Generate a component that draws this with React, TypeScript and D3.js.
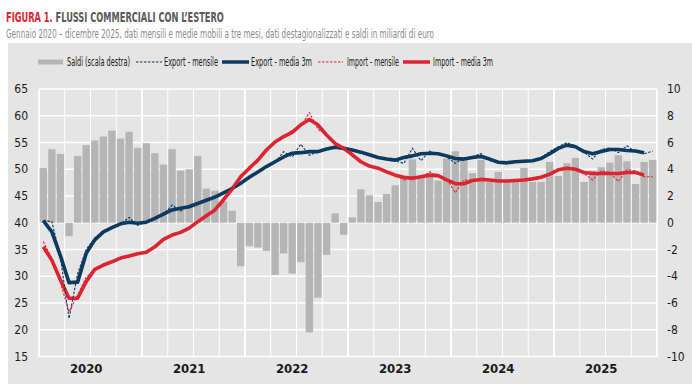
import React, { useLayoutEffect, useRef, useState } from "react";
import * as d3 from "d3";

// Gennaio 2020 - dicembre 2025, miliardi di euro
const years = ["2020", "2021", "2022", "2023", "2024", "2025"];

// saldi (scala destra)
const saldi = [
  4.1, 5.5, 5.15, -1.0, 5.0, 5.8, 6.15, 6.45, 6.9, 6.3, 6.8, 5.6,
  5.95, 5.2, 4.35, 5.5, 3.9, 4.0, 5.0, 2.55, 2.4, 1.6, 0.9, -3.25,
  -1.75, -1.85, -2.1, -3.9, -2.3, -3.8, -2.95, -8.2, -5.6, -2.4, 0.7, -0.9,
  0.4, 2.5, 2.05, 1.55, 2.15, 2.8, 3.3, 4.75, 3.45, 3.5, 3.15, 4.8,
  5.35, 4.9, 3.7, 4.7, 3.1, 3.8, 3.1, 3.1, 4.1, 3.05, 3.05, 4.55,
  3.5, 4.45, 4.85, 3.05, 3.9, 4.15, 4.5, 5.05, 4.6, 2.9, 4.55, 4.7,
];

const exportMensile = [
  40.4, 40.2, 33.5, 22.1, 30.5, 35.0, 37.2, 38.4, 39.3, 39.8, 41.0, 39.5,
  40.3, 40.7, 41.5, 43.3, 42.2, 43.3, 43.8, 44.3, 45.0, 45.5, 46.5, 47.3,
  48.6, 49.3, 50.6, 51.2, 53.3, 52.3, 54.7, 52.6, 53.3, 53.8, 54.1, 53.7,
  53.7, 53.0, 52.6, 52.3, 51.8, 51.6, 51.1, 53.9, 51.6, 53.4, 52.9, 52.3,
  51.1, 52.1, 52.4, 52.9, 51.6, 51.4, 51.2, 51.3, 51.7, 51.5, 52.2, 53.3,
  54.2, 55.0, 54.4, 53.2, 51.9, 53.7, 54.0, 53.1, 54.4, 53.2, 52.9, 53.4,
];

const exportMedia3m = [
  40.4, 38.3, 33.8, 28.8, 28.9, 34.3, 36.8, 38.3, 39.1, 39.8, 40.1, 39.9,
  40.1, 40.8, 41.6, 42.4, 42.7, 43.0, 43.6, 44.2, 44.8, 45.6, 46.4, 47.4,
  48.5, 49.5, 50.5, 51.4, 52.3, 53.0, 53.1, 53.3, 53.3, 53.8, 54.1, 53.9,
  53.6, 53.2, 52.7, 52.2, 51.9, 51.7, 52.2, 52.5, 52.9, 53.0, 52.9, 52.5,
  52.0, 51.9, 52.2, 52.4, 51.9, 51.3, 51.2, 51.4, 51.5, 51.6, 52.0, 52.9,
  53.9, 54.5, 54.2, 53.3, 52.9, 53.3, 53.7, 53.7, 53.5, 53.4, 53.1,
];

const importMensile = [
  36.5, 33.3, 28.8, 23.3, 26.5, 29.8, 31.3, 32.2, 32.6, 33.5, 33.8, 34.3,
  34.4, 35.6, 37.0, 37.5, 38.3, 39.0, 40.3, 41.2, 42.4, 44.6, 46.1, 48.9,
  50.1, 51.5, 53.7, 55.1, 56.0, 57.3, 58.0, 60.6, 57.5, 56.3, 54.9, 53.7,
  52.7, 51.5, 50.5, 50.2, 49.4, 49.0, 48.0, 48.6, 48.4, 49.5, 48.6, 48.2,
  45.6, 48.0, 47.9, 48.0, 48.1, 47.8, 47.7, 48.0, 48.0, 48.1, 48.6, 49.1,
  50.0, 50.3, 50.1, 49.2, 48.0, 49.7, 49.4, 47.7, 49.9, 49.7, 48.6, 48.6,
];

const importMedia3m = [
  35.5, 33.0, 29.3, 25.9, 25.9, 29.0, 31.3, 32.1, 32.7, 33.4, 33.8, 34.2,
  34.5, 35.5, 36.9, 37.7, 38.2, 39.0, 40.2, 41.3, 42.4, 44.3, 46.3, 48.6,
  50.2, 51.7, 53.6, 55.1, 56.1, 56.9, 58.3, 59.3, 58.3, 56.4, 54.8, 53.9,
  52.7, 51.4, 50.6, 50.2, 49.5, 48.9, 48.5, 48.3, 48.6, 48.9, 48.8, 48.0,
  47.3, 47.3, 47.9, 48.1, 48.0, 47.8, 47.8, 47.9, 48.0, 48.2, 48.5, 49.1,
  49.9, 50.2, 50.0, 49.4, 49.2, 49.2, 49.2, 49.2, 49.4, 49.4, 48.9,
];

const leftTicks = [15, 20, 25, 30, 35, 40, 45, 50, 55, 60, 65];
const rightTicks = [-10, -8, -6, -4, -2, 0, 2, 4, 6, 8, 10];

const FONT = "'Liberation Sans Narrow','Arial Narrow','DejaVu Sans Condensed',sans-serif";
const NAVY = "#0c3a60";
const RED = "#dc2530";
const BAR = "#b5b5b5";
const BG = "#e5e5e5";

export default function App() {
  const nMonths = years.length * 12;
  const plot = { left: 39, right: 657, top: 89, bottom: 356.5 };

  const x = d3.scaleLinear().domain([0, nMonths]).range([plot.left, plot.right]);
  const yL = d3.scaleLinear().domain([15, 65]).range([plot.bottom, plot.top]);
  const yR = d3.scaleLinear().domain([-10, 10]).range([plot.bottom, plot.top]);

  const line = d3
    .line<number>()
    .x((_, i) => x(i + 0.5))
    .y((d) => yL(d));

  const quarterLines = d3.range(0, nMonths + 1, 3);
  const step = x(1) - x(0);

  // il titolo viene compresso in orizzontale fino a 218px
  const titleRef = useRef<SVGTextElement>(null);
  const [titleScale, setTitleScale] = useState(1);
  useLayoutEffect(() => {
    if (titleRef.current) {
      const w = titleRef.current.getComputedTextLength();
      if (w > 0) setTitleScale(218 / w);
    }
  }, []);

  return (
    <svg
      width={692}
      height={388}
      style={{ position: "absolute", left: 0, top: 0, fontFamily: FONT }}
    >
      <rect x={0} y={0} width={692} height={388} fill="#fff" />
      <rect x={8} y={43} width={684} height={341} fill={BG} />

      {/* titolo */}
      <g transform={`translate(6,22) scale(${titleScale},1)`}>
        <text ref={titleRef} x={0} y={0} fontSize={14.5} fontWeight="bold">
          <tspan fill={RED}>FIGURA 1. </tspan>
          <tspan fill="#595959">FLUSSI COMMERCIALI CON L’ESTERO</tspan>
        </text>
      </g>
      <text x={6} y={37.5} fontSize={12.5} fill="#8a8a8a" textLength={428} lengthAdjust="spacingAndGlyphs">
        Gennaio 2020 – dicembre 2025, dati mensili e medie mobili a tre mesi, dati destagionalizzati e saldi in miliardi di euro
      </text>

      {/* legenda */}
      <g fontSize={12} fill="#1a1a1a">
        <rect x={38} y={59.5} width={25} height={5} fill={BAR} />
        <text x={67} y={66} textLength={63} lengthAdjust="spacingAndGlyphs">Saldi (scala destra)</text>
        <line x1={136} x2={162} y1={62} y2={62} stroke={NAVY} strokeWidth={1.1} strokeDasharray="2.5,1.5" />
        <text x={164} y={66} textLength={54} lengthAdjust="spacingAndGlyphs">Export - mensile</text>
        <line x1={222} x2={249} y1={62} y2={62} stroke={NAVY} strokeWidth={3.5} />
        <text x={251} y={66} textLength={61} lengthAdjust="spacingAndGlyphs">Export - media 3m</text>
        <line x1={318} x2={343} y1={62} y2={62} stroke={RED} strokeWidth={1.1} strokeDasharray="2.5,1.5" />
        <text x={347} y={66} textLength={52} lengthAdjust="spacingAndGlyphs">Import - mensile</text>
        <line x1={403} x2={430} y1={62} y2={62} stroke={RED} strokeWidth={3.5} />
        <text x={433} y={66} textLength={60} lengthAdjust="spacingAndGlyphs">Import - media 3m</text>
      </g>

      {/* griglia */}
      {leftTicks.map((t) => (
        <line key={"h" + t} x1={plot.left} x2={plot.right} y1={yL(t)} y2={yL(t)} stroke="#fff" strokeWidth={1.6} />
      ))}
      {quarterLines.map((m) => (
        <line
          key={"v" + m}
          x1={x(m)}
          x2={x(m)}
          y1={plot.top}
          y2={plot.bottom}
          stroke="#fff"
          strokeWidth={m % 12 === 0 ? 2 : 1}
        />
      ))}

      {/* saldi */}
      {saldi.map((v, i) => (
        <rect
          key={"b" + i}
          x={x(i) + 0.6}
          width={step - 1.2}
          y={Math.min(yR(v), yR(0))}
          height={Math.abs(yR(v) - yR(0))}
          fill={BAR}
        />
      ))}

      {/* serie */}
      <path d={line(exportMedia3m) || ""} fill="none" stroke={NAVY} strokeWidth={3.6} strokeLinejoin="round" />
      <path d={line(importMedia3m) || ""} fill="none" stroke={RED} strokeWidth={3.6} strokeLinejoin="round" />
      <path d={line(exportMensile) || ""} fill="none" stroke={NAVY} strokeWidth={1.1} strokeDasharray="2.5,1.5" />
      <path d={line(importMensile) || ""} fill="none" stroke={RED} strokeWidth={1.1} strokeDasharray="2.5,1.5" />

      {/* assi */}
      <g fontSize={12} fill="#1a1a1a">
        {leftTicks.map((t) => (
          <text key={"l" + t} x={28} y={yL(t) + 4} textAnchor="end">
            {t}
          </text>
        ))}
        {rightTicks.map((t) => (
          <text key={"r" + t} x={667} y={yR(t) + 4}>
            {t}
          </text>
        ))}
        {years.map((yy, k) => (
          <text key={yy} x={x(k * 12 + 5.5)} y={373} textAnchor="middle" fontWeight="bold" fontSize={13}>
            {yy}
          </text>
        ))}
      </g>
    </svg>
  );
}
